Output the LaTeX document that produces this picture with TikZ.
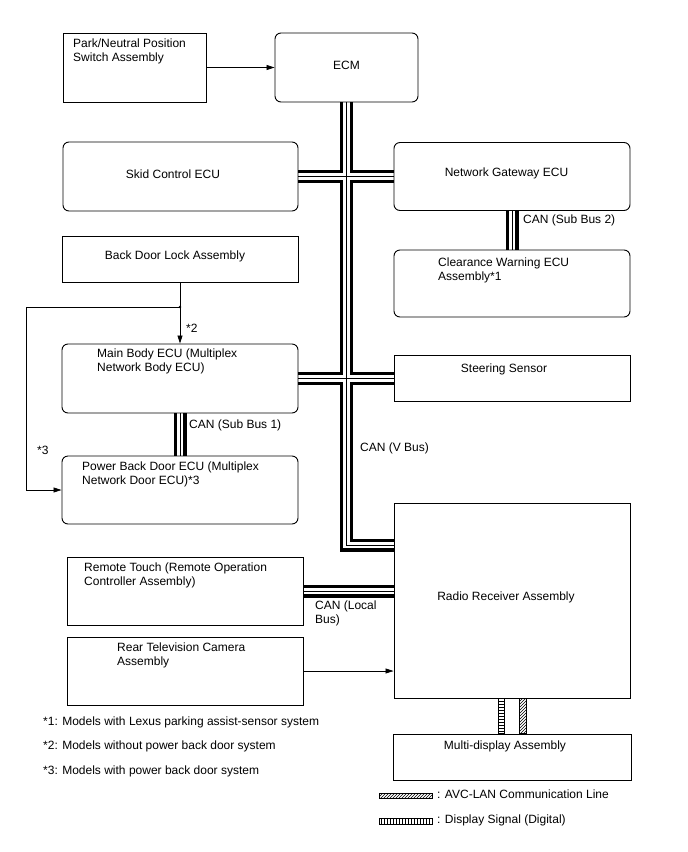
\documentclass[tikz,border=0pt]{standalone}
\usepackage{fontspec}
\setmainfont{Liberation Sans}
\usetikzlibrary{arrows.meta,patterns}
\pgfdeclarelayer{background}
\pgfsetlayers{background,main}
\begin{document}
\begin{tikzpicture}[x=1pt,y=-1pt,
  font=\fontsize{12}{14}\selectfont,
  sbox/.style={draw,line width=0.9pt,minimum width=#1,inner sep=0pt},
  rbox/.style={sbox=#1,rounded corners=6pt},
  lbl/.style={inner sep=0pt,align=left,anchor=west},
  clbl/.style={inner sep=0pt,align=center},
  arr/.style={line width=0.7pt,-{Triangle[length=8pt,width=5pt]}},
  thinl/.style={line width=0.7pt}]
\useasboundingbox (0,0) rectangle (688,852);
% boxes
\node[sbox=143pt,minimum height=69pt] (park) at (134.5,67.5) {};
\node[rbox=143pt,minimum height=69pt] (ecm) at (346.5,67.5) {};
\node[rbox=235pt,minimum height=69pt] (skid) at (180.5,176.5) {};
\node[rbox=236pt,minimum height=68pt] (gw) at (512,176.5) {};
\node[rbox=236pt,minimum height=67pt] (clr) at (512,283.5) {};
\node[sbox=236pt,minimum height=46pt] (bdl) at (180,259) {};
\node[rbox=236pt,minimum height=69pt] (mb) at (180,378.5) {};
\node[rbox=236pt,minimum height=68pt] (pbd) at (180,490) {};
\node[sbox=236pt,minimum height=46pt] (ss) at (512,378.5) {};
\node[sbox=236pt,minimum height=195pt] (radio) at (512,600.5) {};
\node[sbox=236pt,minimum height=68pt] (rt) at (185,591) {};
\node[sbox=236pt,minimum height=68pt] (rtv) at (185,671) {};
\node[sbox=238pt,minimum height=46pt] (md) at (512,757) {};
% texts
\node[lbl] (tpark) at (73,51) {Park/Neutral Position\\Switch Assembly};
\node[clbl] (tecm) at (346.5,65) {ECM};
\node[clbl] (tskid) at (173,174) {Skid Control ECU};
\node[clbl] (tgw) at (506.5,173) {Network Gateway ECU};
\node[lbl] (tclr) at (438,270) {Clearance Warning ECU\\Assembly*1};
\node[lbl] (tsb2) at (523,220) {CAN (Sub Bus 2)};
\node[clbl] (tbdl) at (175,256) {Back Door Lock Assembly};
\node[lbl] (ts2) at (186,328) {*2};
\node[lbl] (tmb) at (97,361) {Main Body ECU (Multiplex\\Network Body ECU)};
\node[lbl] (tsb1) at (189,425) {CAN (Sub Bus 1)};
\node[lbl] (ts3) at (37,450) {*3};
\node[lbl] (tpbd) at (82,474) {Power Back Door ECU (Multiplex\\Network Door ECU)*3};
\node[clbl] (tss) at (504,369) {Steering Sensor};
\node[lbl] (tvbus) at (360,448) {CAN (V Bus)};
\node[clbl] (tradio) at (506,597) {Radio Receiver Assembly};
\node[lbl] (trt) at (84,575.5) {Remote Touch (Remote Operation\\Controller Assembly)};
\node[lbl] (tlb) at (315,613.5) {CAN (Local\\Bus)};
\node[lbl] (trtv) at (117,655) {Rear Television Camera\\Assembly};
\node[clbl] (tmd) at (505,746) {Multi-display Assembly};
\node[lbl] (fn1) at (43,722) {*1: Models with Lexus parking assist-sensor system};
\node[lbl] (fn2) at (43,746) {*2: Models without power back door system};
\node[lbl] (fn3) at (43,771) {*3: Models with power back door system};
\node[lbl] (lg1) at (437,794) {: AVC-LAN Communication Line};
\node[lbl] (lg2) at (437,820.5) {: Display Signal (Digital)};
% buses
\coordinate (rbus) at (394,545);
\begin{pgfonlayer}{background}
\fill[white] (0,0) rectangle (688,852);
\foreach \w/\c in {13/black,6.5/white,0.8/black}{
  \draw[line width=\w pt,\c]
    (ecm.south) |- (rbus)
    (skid.east) -- (gw.west)
    (mb.east) -- (ss.west)
    (gw.south) -- (clr.north)
    (mb.south) -- (pbd.north)
    (rt.east) -- (rt.east -| radio.west);
}
\end{pgfonlayer}
% arrows
\draw[arr] (park.east) -- (ecm.west);
\draw[arr] (bdl.south) -- (mb.north);
\coordinate (jn) at (180,307);
\coordinate (lc) at (26,307);
\fill (jn) circle (1.4pt);
\draw[arr] (jn) -- (lc) |- (pbd.west);
\draw[arr] (rtv.east) -- (rtv.east -| radio.west);
% AVC / display lines
\draw[thinl,pattern=horizontal lines] ([xshift=-14pt]radio.south) rectangle ([xshift=-8pt]md.north);
\draw[thinl,pattern=north east lines] ([xshift=7pt]radio.south) rectangle ([xshift=14pt]md.north);
% legend swatches
\coordinate (la1) at (379,793);
\coordinate (la2) at (432,798.5);
\coordinate (ld1) at (379,818.5);
\coordinate (ld2) at (432,824.5);
\draw[thinl,pattern=north east lines] (la1) rectangle (la2);
\draw[thinl,pattern=vertical lines] (ld1) rectangle (ld2);
\end{tikzpicture}
\end{document}
